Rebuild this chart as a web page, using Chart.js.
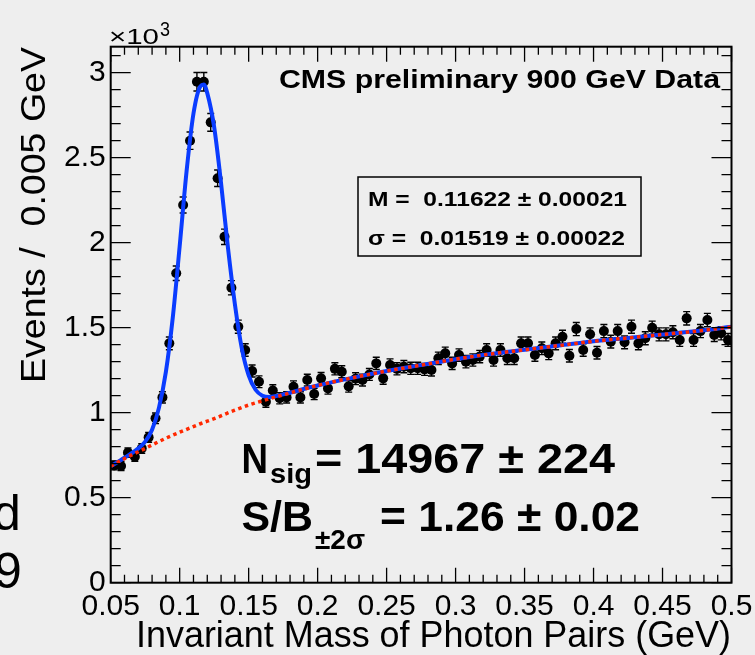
<!DOCTYPE html>
<html><head><meta charset="utf-8">
<script src="https://cdn.jsdelivr.net/npm/chart.js@4.4.1/dist/chart.umd.min.js"></script>
<style>html,body{margin:0;padding:0;background:#eeeeee;overflow:hidden}canvas{display:block}</style>
</head><body>
<canvas id="c" width="755" height="655"></canvas>
<script>
// ---- data (events in units of 10^3 per 0.005 GeV bin) ----
const massBins = [
0.0525,0.0575,0.0625,0.0675,0.0725,0.0775,0.0825,0.0875,0.0925,0.0975,
0.1025,0.1075,0.1125,0.1175,0.1225,0.1275,0.1325,0.1375,0.1425,0.1475,
0.1525,0.1575,0.1625,0.1675,0.1725,0.1775,0.1825,0.1875,0.1925,0.1975,
0.2025,0.2075,0.2125,0.2175,0.2225,0.2275,0.2325,0.2375,0.2425,0.2475,
0.2525,0.2575,0.2625,0.2675,0.2725,0.2775,0.2825,0.2875,0.2925,0.2975,
0.3025,0.3075,0.3125,0.3175,0.3225,0.3275,0.3325,0.3375,0.3425,0.3475,
0.3525,0.3575,0.3625,0.3675,0.3725,0.3775,0.3825,0.3875,0.3925,0.3975,
0.4025,0.4075,0.4125,0.4175,0.4225,0.4275,0.4325,0.4375,0.4425,0.4475,
0.4525,0.4575,0.4625,0.4675,0.4725,0.4775,0.4825,0.4875,0.4925,0.4975];
const eventsK = [
0.690,0.686,0.765,0.741,0.790,0.855,0.967,1.090,1.408,1.820,
2.222,2.600,2.947,2.947,2.708,2.379,2.035,1.735,1.506,1.369,
1.245,1.182,1.065,1.131,1.085,1.090,1.153,1.090,1.192,1.110,
1.202,1.143,1.258,1.241,1.155,1.200,1.192,1.225,1.290,1.202,
1.281,1.258,1.271,1.261,1.261,1.255,1.251,1.320,1.349,1.290,
1.339,1.300,1.310,1.330,1.369,1.310,1.369,1.320,1.320,1.408,
1.408,1.339,1.379,1.349,1.408,1.447,1.335,1.492,1.369,1.461,
1.353,1.480,1.418,1.480,1.414,1.506,1.408,1.438,1.500,1.461,
1.461,1.473,1.428,1.555,1.428,1.480,1.545,1.457,1.467,1.428];

// background fit curve
const bkgX = [0.05,0.06,0.075,0.09,0.1,0.115,0.125,0.14,0.15,0.16,0.175,0.2,0.225,0.25,0.275,0.3,0.325,0.35,0.375,0.4,0.425,0.45,0.475,0.5];
const bkgY = [0.685,0.730,0.790,0.850,0.885,0.935,0.965,1.015,1.045,1.070,1.105,1.160,1.205,1.245,1.280,1.315,1.345,1.370,1.395,1.420,1.440,1.460,1.480,1.505];
// total (signal + background) fit curve
const fitX = [0.05,0.06,0.07,0.075,0.08,0.085,0.09,0.095,0.1,0.105,0.11,0.115,0.1175,0.12,0.125,0.13,0.135,0.14,0.145,0.15,0.155,0.16,0.165,0.17,0.175,0.2,0.225,0.25,0.275,0.3,0.325,0.35,0.375,0.4,0.425,0.45,0.475,0.5];
const fitY = [0.685,0.735,0.790,0.830,0.900,1.030,1.240,1.560,1.980,2.420,2.760,2.920,2.930,2.880,2.680,2.350,1.970,1.640,1.380,1.220,1.135,1.100,1.092,1.098,1.108,1.160,1.205,1.245,1.280,1.315,1.345,1.370,1.395,1.420,1.440,1.460,1.480,1.505];

// axis ticks
const xTickValues = [0.05,0.1,0.15,0.2,0.25,0.3,0.35,0.4,0.45,0.5];
const xTickLabels = ['0.05','0.1','0.15','0.2','0.25','0.3','0.35','0.4','0.45','0.5'];
const yTickValues = [0,0.5,1,1.5,2,2.5,3];
const yTickLabels = ['0','0.5','1','1.5','2','2.5','3'];

const X_MIN = 0.05, X_MAX = 0.5, Y_MIN = 0, Y_MAX = 3.153;

const toPts = (xs, ys) => xs.map((x, i) => ({x, y: ys[i]}));

function fitText(ctx, text, x0, x1, y, font) {
  ctx.save();
  ctx.font = font; ctx.textAlign = 'left'; ctx.textBaseline = 'alphabetic';
  const w = ctx.measureText(text).width;
  ctx.translate(x0, y); ctx.scale((x1 - x0) / w, 1);
  ctx.fillText(text, 0, 0);
  ctx.restore();
}

const rootStyle = {
  id: 'rootStyle',
  beforeDraw(chart) {
    const ctx = chart.ctx;
    ctx.save(); ctx.fillStyle = '#eeeeee'; ctx.fillRect(0, 0, chart.width, chart.height); ctx.restore();
  },
  beforeDatasetsDraw(chart) {
    const {ctx, scales: {x, y}} = chart;
    ctx.save(); ctx.strokeStyle = '#000'; ctx.lineWidth = 1.4;
    massBins.forEach((m, i) => {
      const v = eventsK[i], e = Math.sqrt(v * 1000) / 1000;
      const px = x.getPixelForValue(m), y1 = y.getPixelForValue(v + e), y2 = y.getPixelForValue(v - e);
      ctx.beginPath();
      ctx.moveTo(px, y1); ctx.lineTo(px, y2);
      ctx.moveTo(px - 3.5, y1); ctx.lineTo(px + 3.5, y1);
      ctx.moveTo(px - 3.5, y2); ctx.lineTo(px + 3.5, y2);
      ctx.stroke();
    });
    ctx.restore();
  },
  afterDraw(chart) {
    const {ctx, chartArea: a, scales: {x, y}} = chart;
    ctx.save();
    ctx.strokeStyle = '#000'; ctx.lineWidth = 1.3;
    ctx.beginPath();
    for (let k = 5; k <= 50; k++) {
      const px = x.getPixelForValue(k / 100), len = (k % 5 === 0) ? 15 : 8;
      ctx.moveTo(px, a.bottom); ctx.lineTo(px, a.bottom - len);
      ctx.moveTo(px, a.top); ctx.lineTo(px, a.top + len);
    }
    for (let k = 0; k <= 31; k++) {
      const py = y.getPixelForValue(k / 10), len = (k % 5 === 0) ? 20 : 10;
      ctx.moveTo(a.left, py); ctx.lineTo(a.left + len, py);
      ctx.moveTo(a.right, py); ctx.lineTo(a.right - len, py);
    }
    ctx.stroke();
    ctx.lineWidth = 2;
    ctx.strokeRect(a.left, a.top, a.right - a.left, a.bottom - a.top);

    ctx.fillStyle = '#000';
    // axis titles
    fitText(ctx, 'Invariant Mass of Photon Pairs (GeV)', 136, 731, 647, '36px "Liberation Sans"');
    ctx.save(); ctx.translate(45, 383); ctx.rotate(-Math.PI / 2);
    fitText(ctx, 'Events /  0.005 GeV', 0, 336, 0, '35px "Liberation Sans"');
    ctx.restore();
    // exponent
    fitText(ctx, '\u00d710', 109, 159, 43.5, '22px "Liberation Sans"');
    fitText(ctx, '3', 160, 170, 36, '21px "Liberation Sans"');
    // header
    fitText(ctx, 'CMS preliminary 900 GeV Data', 279, 720, 88, 'bold 25px "Liberation Sans"');
    // fit box
    ctx.lineWidth = 1.5;
    ctx.strokeRect(358, 177, 283, 79);
    fitText(ctx, 'M =  0.11622 \u00b1 0.00021', 368, 627, 206, 'bold 20px "Liberation Sans"');
    fitText(ctx, '\u03c3 =  0.01519 \u00b1 0.00022', 368, 625, 245, 'bold 20px "Liberation Sans"');
    // big texts
    fitText(ctx, 'N', 241.5, 268, 472.7, 'bold 43px "Liberation Sans"');
    fitText(ctx, 'sig', 270, 312, 483, 'bold 28px "Liberation Sans"');
    fitText(ctx, '= 14967 \u00b1 224', 315, 615, 472.7, 'bold 43px "Liberation Sans"');
    fitText(ctx, 'S/B', 241.5, 313, 531, 'bold 43px "Liberation Sans"');
    fitText(ctx, '\u00b12\u03c3', 315, 365, 549, 'bold 27px "Liberation Sans"');
    fitText(ctx, '= 1.26 \u00b1 0.02', 380, 640, 531, 'bold 43px "Liberation Sans"');
    // clipped side text
    ctx.font = '50px "Liberation Sans"'; ctx.textAlign = 'left'; ctx.textBaseline = 'alphabetic';
    ctx.fillText('d', -7, 530);
    ctx.fillText('9', -6, 588);
    ctx.restore();
  }
};

new Chart(document.getElementById('c'), {
  type: 'scatter',
  data: {
    datasets: [
      {label: 'background', data: toPts(bkgX, bkgY), showLine: true, borderColor: 'rgb(255,40,0)',
       borderWidth: 3.5, borderDash: [3.5, 3.5], pointRadius: 0, cubicInterpolationMode: 'monotone', order: 0},
      {label: 'fit', data: toPts(fitX, fitY), showLine: true, borderColor: 'rgb(10,60,255)',
       borderWidth: 4, pointRadius: 0, cubicInterpolationMode: 'monotone', order: 1},
      {label: 'data', data: toPts(massBins, eventsK), showLine: false, pointRadius: 5,
       pointBackgroundColor: '#000', pointBorderColor: '#000', pointBorderWidth: 0, order: 2}
    ]
  },
  options: {
    responsive: false, animation: false, devicePixelRatio: 1,
    layout: {padding: {top: 46.7, right: 23.5, left: 0, bottom: 0}},
    plugins: {legend: {display: false}, tooltip: {enabled: false}},
    scales: {
      x: {
        type: 'linear', position: 'bottom', min: X_MIN, max: X_MAX,
        afterBuildTicks(s) { s.ticks = xTickValues.map(v => ({value: v})); },
        afterFit(s) { s.height = 72.3; s.paddingLeft = 0; s.paddingRight = 0; },
        grid: {display: false, drawTicks: false}, border: {display: false},
        ticks: {autoSkip: false, maxRotation: 0, minRotation: 0, padding: 6, color: '#000',
                font: {family: 'Liberation Sans', size: 30},
                callback: (v, i) => xTickLabels[i]}
      },
      y: {
        type: 'linear', position: 'left', min: Y_MIN, max: Y_MAX,
        afterBuildTicks(s) { s.ticks = yTickValues.map(v => ({value: v})); },
        afterFit(s) { s.width = 110.7; s.paddingTop = 0; s.paddingBottom = 0; },
        grid: {display: false, drawTicks: false}, border: {display: false},
        ticks: {autoSkip: false, padding: 5, color: '#000',
                font: {family: 'Liberation Sans', size: 30},
                callback: (v, i) => yTickLabels[i]}
      }
    }
  },
  plugins: [rootStyle]
});
</script>
</body></html>
